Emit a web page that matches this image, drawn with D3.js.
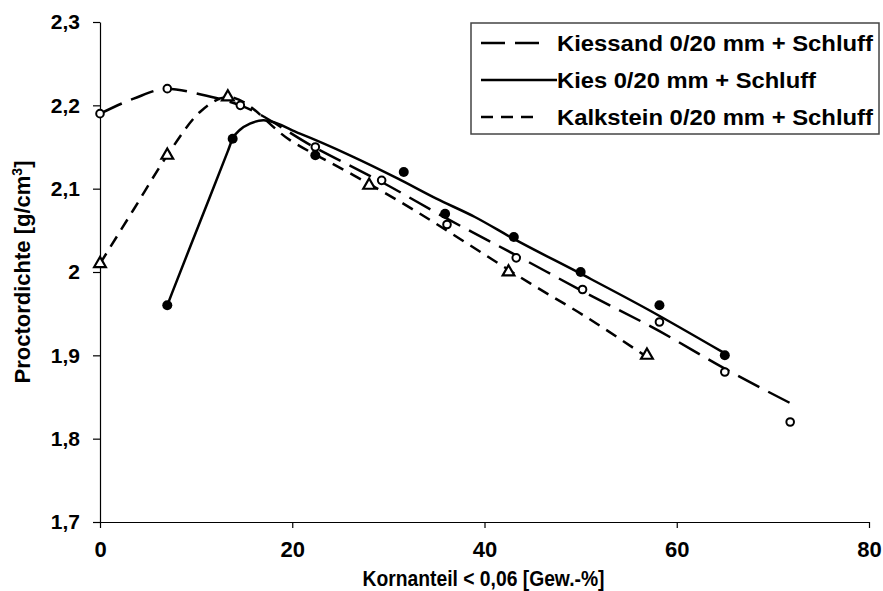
<!DOCTYPE html>
<html>
<head>
<meta charset="utf-8">
<script src="https://cdn.jsdelivr.net/npm/d3@7"></script>
<style>
  body { margin: 0; background: #fff; }
  text { font-family: "Liberation Sans", Arial, sans-serif; font-weight: bold; fill: #000; }
</style>
</head>
<body>
<div class="graph"></div>
<script>
// Measured points (markers)
var kiessandX = [0, 7, 14.6, 22.4, 29.3, 36.1, 43.3, 50.2, 58.2, 65, 71.8];
var kiessandY = [2.19, 2.22, 2.20, 2.15, 2.11, 2.057, 2.017, 1.979, 1.94, 1.88, 1.82];
var kiesX = [7, 13.8, 22.4, 31.6, 35.9, 43.05, 50, 58.2, 65];
var kiesY = [1.96, 2.16, 2.14, 2.12, 2.07, 2.042, 2.0, 1.96, 1.90];
var kalksteinX = [0, 7, 13.3, 28, 42.5, 56.9];
var kalksteinY = [2.01, 2.14, 2.21, 2.104, 2.0, 1.90];

// Smoothed curves as drawn in the chart
var kiessandCurveX = [0, 3.5, 7, 10.5, 14.6, 22.4, 29.3, 36.1, 43.3, 50.2, 58.2, 65, 72.6];
var kiessandCurveY = [2.19, 2.208, 2.22, 2.213, 2.20, 2.149, 2.108, 2.064, 2.02, 1.977, 1.929, 1.884, 1.838];
var kiesCurveX = [7, 7.5, 10.4, 13.3, 13.8, 14.6, 15.6, 17, 20.8, 26, 31, 35, 39, 43, 50, 57, 64.75];
var kiesCurveY = [1.96, 1.975, 2.06, 2.145, 2.16, 2.171, 2.178, 2.182, 2.166, 2.14, 2.112, 2.088, 2.066, 2.04, 1.998, 1.955, 1.904];
var kalksteinCurveX = [0, 3.5, 7, 10.4, 13.3, 19.8, 26.4, 33, 38.5, 44.8, 50.3, 56.9];
var kalksteinCurveY = [2.01, 2.075, 2.14, 2.192, 2.21, 2.158, 2.116, 2.072, 2.032, 1.986, 1.948, 1.898];

var xTicks = [0, 20, 40, 60, 80];
var yTicks = [1.7, 1.8, 1.9, 2.0, 2.1, 2.2, 2.3];
var seriesNames = ["Kiessand 0/20 mm + Schluff", "Kies 0/20 mm + Schluff", "Kalkstein 0/20 mm + Schluff"];

// Configuration
var width = 883;
var height = 591;
var padding = { left: 100, right: 14, top: 22, bottom: 69 };

var svg = d3.select(".graph").append("svg")
    .attr("width", width)
    .attr("height", height)
    .style("display", "block");

var xScale = d3.scaleLinear().domain([0, 80]).range([padding.left, width - padding.right]);
var yScale = d3.scaleLinear().domain([1.7, 2.3]).range([height - padding.bottom, padding.top]);

var fmt = function (d) { return String(+d.toFixed(1)).replace(".", ","); };

// Axes
var xAxis = svg.append("g")
    .attr("transform", "translate(0," + yScale(1.7) + ")")
    .call(d3.axisBottom(xScale).tickValues(xTicks).tickSize(6).tickSizeOuter(0).tickFormat(fmt));
var yAxis = svg.append("g")
    .attr("transform", "translate(" + xScale(0) + ",0)")
    .call(d3.axisLeft(yScale).tickValues(yTicks).tickSize(7).tickSizeOuter(0).tickFormat(fmt));

svg.selectAll(".domain, .tick line").attr("stroke", "#000").attr("stroke-width", 1.2);
xAxis.selectAll("text").attr("font-size", 22).attr("font-family", "Liberation Sans")
    .attr("y", 19).attr("dy", "0.71em");
yAxis.selectAll("text").attr("font-size", 21).attr("font-family", "Liberation Sans").attr("x", -20);

// Axis titles
svg.append("text")
    .attr("x", (xScale(0) + xScale(80)) / 2 - 1)
    .attr("y", 586)
    .attr("text-anchor", "middle")
    .attr("font-size", 22)
    .attr("textLength", 242)
    .attr("lengthAdjust", "spacingAndGlyphs")
    .text("Kornanteil < 0,06 [Gew.-%]");

var yTitle = svg.append("text")
    .attr("transform", "translate(30," + ((yScale(1.7) + yScale(2.3)) / 2) + ") rotate(-90)")
    .attr("text-anchor", "middle")
    .attr("font-size", 22);
yTitle.append("tspan").text("Proctordichte [g/cm");
yTitle.append("tspan").attr("dy", -8).attr("font-size", 14).text("3");
yTitle.append("tspan").attr("dy", 8).text("]");

// Lines
function curveData(xs, ys) { return xs.map(function (x, i) { return [x, ys[i]]; }); }
var line = d3.line()
    .x(function (d) { return xScale(d[0]); })
    .y(function (d) { return yScale(d[1]); })
    .curve(d3.curveMonotoneX);

var lines = [
    { data: curveData(kiessandCurveX, kiessandCurveY), dash: "24,10" },
    { data: curveData(kiesCurveX, kiesCurveY), dash: null },
    { data: curveData(kalksteinCurveX, kalksteinCurveY), dash: "12,8" }
];
svg.selectAll("path.series").data(lines).enter().append("path")
    .attr("class", "series")
    .attr("d", function (d) { return line(d.data); })
    .attr("fill", "none")
    .attr("stroke", "#000")
    .attr("stroke-width", 2.5)
    .attr("stroke-dasharray", function (d) { return d.dash; });

// Markers
svg.selectAll("circle.kiessand").data(curveData(kiessandX, kiessandY)).enter().append("circle")
    .attr("class", "kiessand")
    .attr("cx", function (d) { return xScale(d[0]); })
    .attr("cy", function (d) { return yScale(d[1]); })
    .attr("r", 3.8)
    .attr("fill", "#fff")
    .attr("stroke", "#000")
    .attr("stroke-width", 2);

svg.selectAll("circle.kies").data(curveData(kiesX, kiesY)).enter().append("circle")
    .attr("class", "kies")
    .attr("cx", function (d) { return xScale(d[0]); })
    .attr("cy", function (d) { return yScale(d[1]); })
    .attr("r", 5)
    .attr("fill", "#000");

var tri = d3.symbol().type(d3.symbolTriangle).size(60);
svg.selectAll("path.kalkstein").data(curveData(kalksteinX, kalksteinY)).enter().append("path")
    .attr("class", "kalkstein")
    .attr("d", tri)
    .attr("transform", function (d) { return "translate(" + xScale(d[0]) + "," + yScale(d[1]) + ")"; })
    .attr("fill", "#fff")
    .attr("stroke", "#000")
    .attr("stroke-width", 2.2);

// Legend
var legend = svg.append("g").attr("transform", "translate(471,23)");
legend.append("rect")
    .attr("width", 408).attr("height", 111)
    .attr("fill", "#fff").attr("stroke", "#444").attr("stroke-width", 1.5);
var legendDash = ["24,10", null, "12,8"];
var legendRowY = [20, 57, 94];
var legendLineEnd = [69, 86, 69];
var legendTextLen = [316, 259, 316];
seriesNames.forEach(function (name, i) {
    legend.append("line")
        .attr("x1", 10).attr("x2", legendLineEnd[i])
        .attr("y1", legendRowY[i]).attr("y2", legendRowY[i])
        .attr("stroke", "#000").attr("stroke-width", 2.5)
        .attr("stroke-dasharray", legendDash[i]);
    legend.append("text")
        .attr("x", 86).attr("y", legendRowY[i] + 8)
        .attr("font-size", 22)
        .attr("textLength", legendTextLen[i])
        .attr("lengthAdjust", "spacingAndGlyphs")
        .text(name);
});
</script>
</body>
</html>
